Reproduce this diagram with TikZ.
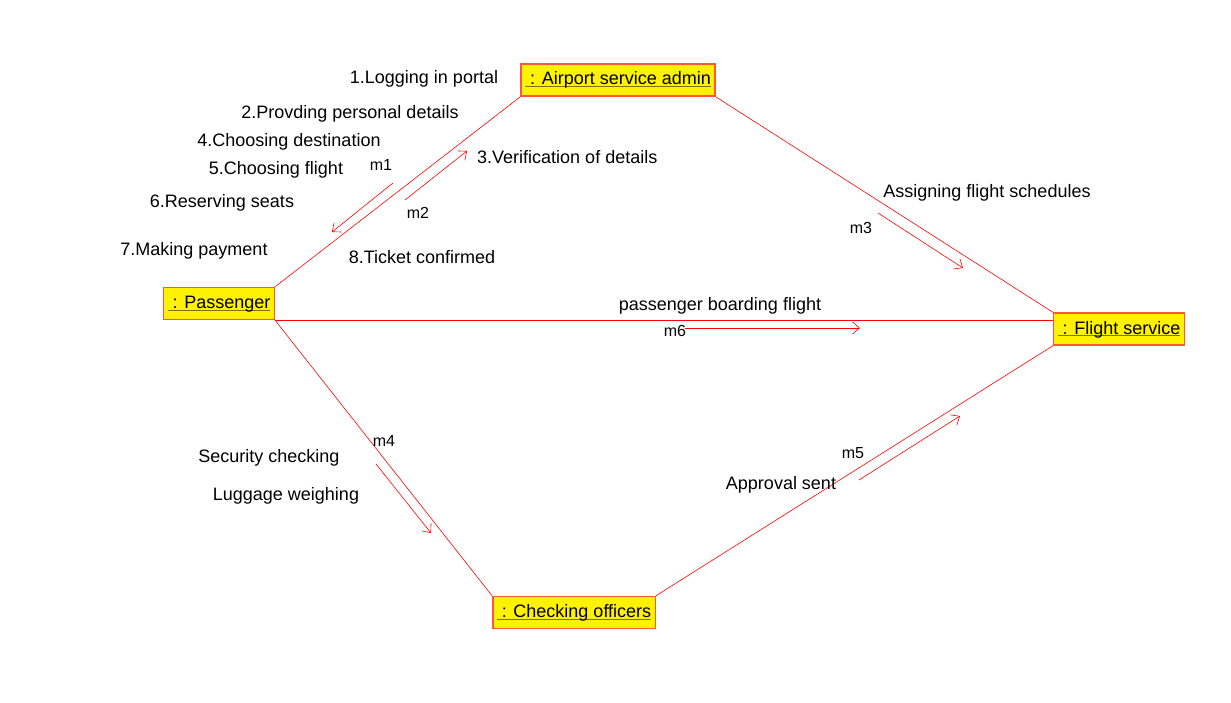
\documentclass[tikz,border=0pt]{standalone}
\usepackage{fontspec}
\setmainfont{Liberation Sans}
\usetikzlibrary{arrows.meta,positioning}
\definecolor{objborder}{RGB}{255,85,60}
\definecolor{objline}{RGB}{120,120,0}
\newcommand{\objname}[1]{\setbox0\hbox{\ #1}\rlap{\color{objline}\rule[-2.5pt]{\wd0}{1.3pt}}\box0}

\begin{document}
\begin{tikzpicture}[x=1pt,y=-1pt,
    obj/.style={draw=objborder,line width=1.4pt,fill=yellow,minimum height=32pt,
      inner xsep=4pt,inner ysep=0pt,text height=12pt,text depth=2pt,
      font=\fontsize{18}{21}\selectfont},
    link/.style={draw=red,line width=0.6pt},
    msg/.style={draw=red,line width=0.6pt,-{Straight Barb[length=7pt,width=12pt]}},
    lbl/.style={inner sep=0pt,font=\fontsize{18}{21}\selectfont},
    mlbl/.style={inner sep=0pt,font=\fontsize{16}{19}\selectfont}]
  \useasboundingbox (0,0) rectangle (1231,703);

  % objects
  \node[obj] (admin) at (618,80) {\objname{: Airport service admin}};
  \node[obj] (pass) at (219,303.5) {\objname{: Passenger}};
  \node[obj] (flight) at (1119,329) {\objname{: Flight service}};
  \node[obj] (check) at (574,612.5) {\objname{: Checking officers}};

  % links
  \draw[link] (pass.north east) -- (admin.south west);
  \draw[link] (admin.south east) -- (flight.north west);
  \draw[link] (pass.south east) -- (pass.south east -| flight.west);
  \draw[link] (pass.south east) -- (check.north west);
  \draw[link] (check.north east) -- (flight.south west);

  % messages
  \coordinate (m1s) at (393,183);  \coordinate (m1e) at (332,232);
  \coordinate (m2s) at (405,200);  \coordinate (m2e) at (467,151);
  \coordinate (m3s) at (878,213);  \coordinate (m3e) at (963,268);
  \coordinate (m6s) at (685,328);  \coordinate (m6e) at (860,328);
  \coordinate (m4s) at (376,464);  \coordinate (m4e) at (431,533);
  \coordinate (m5s) at (859,480);  \coordinate (m5e) at (960,416);
  \foreach \i in {1,2,3,4,5,6} {
    \draw[msg] (m\i s) -- (m\i e);
  }

  % message labels
  \node[mlbl] (l1) at (381,165) {m1};
  \node[mlbl] (l2) at (418,213) {m2};
  \node[mlbl] (l3) at (861,228) {m3};
  \node[mlbl] (l4) at (384,441) {m4};
  \node[mlbl] (l5) at (853,453) {m5};
  \node[mlbl] (l6) at (675,331) {m6};

  % texts
  \node[lbl] (t1) at (424,79) {1.Logging in portal};
  \node[lbl] (t2) at (350,114) {2.Provding personal details};
  \node[lbl,anchor=west] (t3) at (477,157) {3.Verification of details};
  \node[lbl] (t4) at (289,142) {4.Choosing destination};
  \node[lbl] (t5) at (276,170) {5.Choosing flight};
  \node[lbl] (t6) at (222,203) {6.Reserving seats};
  \node[lbl] (t7) at (194,251) {7.Making payment};
  \node[lbl] (t8) at (422,257) {8.Ticket confirmed};
  \node[lbl] (t9) at (987,193) {Assigning flight schedules};
  \node[lbl] (t10) at (720,306) {passenger boarding flight};
  \node[lbl] (t11) at (269,458) {Security checking};
  \node[lbl] (t12) at (286,496) {Luggage weighing};
  \node[lbl] (t13) at (781,485) {Approval sent};
\end{tikzpicture}
\end{document}
